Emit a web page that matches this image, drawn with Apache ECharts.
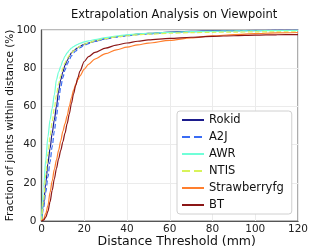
<!DOCTYPE html>
<html><head><meta charset="utf-8">
<script src="https://cdn.jsdelivr.net/npm/echarts@6/dist/echarts.min.js"></script>
<style>html,body{margin:0;padding:0;background:#fff}#c{width:332px;height:249px}</style>
</head><body><div id="c"></div>
<script>
const thresholds = [0,1,2,3,4,5,6,7,8,9,10,11,12,13,14,15,16,17,18,20,22,25,30,35,40,45,50,60,70,80,90,100,110,120];
const rokid = [0,9,20,30,38,46,53,60,68,74,78,81.5,84,86.3,88,89.2,90,90.8,91.5,92.5,93.2,94.2,95.5,96.5,97.2,97.8,98.2,98.9,99.3,99.5,99.7,99.8,99.9,99.9];
const a2j   = [0,7,15,23,31,39,47,55,63,70,75,79,82,84.5,86.5,88,89,90,90.7,92,92.9,94,95.3,96.3,97,97.6,98,98.7,99.1,99.4,99.6,99.7,99.8,99.8];
const awr   = [0,18,32,44,53,59,66,74,78,81,84,86.3,88,89.4,90.5,91.3,92,92.5,93,93.8,94.3,95,96,96.8,97.5,98,98.3,98.8,99.1,99.3,99.5,99.6,99.7,99.8];
const ntis  = [0,11,24,35,44,52,59,66,72,76,80,82.8,85,86.7,88,89.1,90,90.8,91.5,92.5,93.3,94.3,95.5,96.4,97,97.5,97.8,98.3,98.6,98.8,98.9,99,99,99.1];
const strawberryfg = [0,1,4,8,15,21,27,32,37,42,47,51,55,60,64.5,68.5,71.5,74,76,79.5,82,84.8,87.6,89.6,91,92.2,93.1,94.6,95.9,96.9,97.6,98.1,98.5,98.7];
const bt    = [0,0.5,2,5,10,16,22,27.5,32.5,37,41.5,46,51,56,61.5,66.5,71,75,78.5,83.5,86.1,88.3,90.5,92.1,93.2,94.1,94.8,95.6,96.2,96.7,97,97.3,97.5,97.6];

const seriesNames = ['Rokid','A2J','AWR','NTIS','Strawberryfg','BT'];
const seriesValues = [rokid,a2j,awr,ntis,strawberryfg,bt];
const colors = ['#1c1c8c','#3a6cf4','#70ffd8','#d8f35a','#ff7f2e','#8b1616'];
const dashes = ['solid','dashed','solid','dashed','solid','solid'];
const FONT = 'DejaVu Sans';

const chart = echarts.init(document.getElementById('c'), null, {renderer:'canvas'});
chart.setOption({
  animation:false,
  backgroundColor:'#fff',
  title:{text:'Extrapolation Analysis on Viewpoint',left:66,top:4,
    textStyle:{fontFamily:FONT,fontSize:11.5,fontWeight:'normal',color:'#111'}},
  grid:{left:41.5,top:30,right:34,bottom:28,containLabel:false,outerBoundsMode:'none',
    show:true,borderColor:'#777',borderWidth:1.2},
  legend:{orient:'vertical',left:177,top:111,width:116,
    backgroundColor:'#fff',borderColor:'#d0d0d0',borderWidth:1,borderRadius:3,
    padding:[3,8,3,4],itemWidth:22,itemHeight:10,itemGap:5,
    itemStyle:{opacity:0},
    textStyle:{fontFamily:FONT,fontSize:11.5,color:'#111'},
    data:seriesNames},
  xAxis:{type:'value',min:0,max:120,interval:20,
    name:'Distance Threshold (mm)',nameLocation:'middle',nameGap:14,nameMoveOverlap:false,
    nameTextStyle:{fontFamily:FONT,fontSize:12.5,color:'#111',padding:[0,0,0,14]},
    axisLine:{show:true,lineStyle:{color:'#555',width:1.2}},axisTick:{show:false},
    axisLabel:{fontFamily:FONT,fontSize:10.5,color:'#222',margin:3},
    splitLine:{show:true,lineStyle:{color:'#ebebeb',width:1}}},
  yAxis:{type:'value',min:0,max:100,interval:20,
    name:'Fraction of joints within distance (%)',nameLocation:'middle',nameGap:26,nameMoveOverlap:false,
    nameTextStyle:{fontFamily:FONT,fontSize:10.5,color:'#111'},
    axisLine:{show:true,lineStyle:{color:'#555',width:1.2}},axisTick:{show:false},
    axisLabel:{fontFamily:FONT,fontSize:10.5,color:'#222',margin:5},
    splitLine:{show:true,lineStyle:{color:'#ebebeb',width:1}}},
  series: seriesNames.map((n,i)=>({
    name:n,type:'line',smooth:0.3,smoothMonotone:'x',symbol:'none',
    data:thresholds.map((x,j)=>[x,seriesValues[i][j]]),
    lineStyle:{color:colors[i],width:1.2,type:dashes[i]},
    itemStyle:{color:colors[i]}
  }))
});
</script></body></html>
